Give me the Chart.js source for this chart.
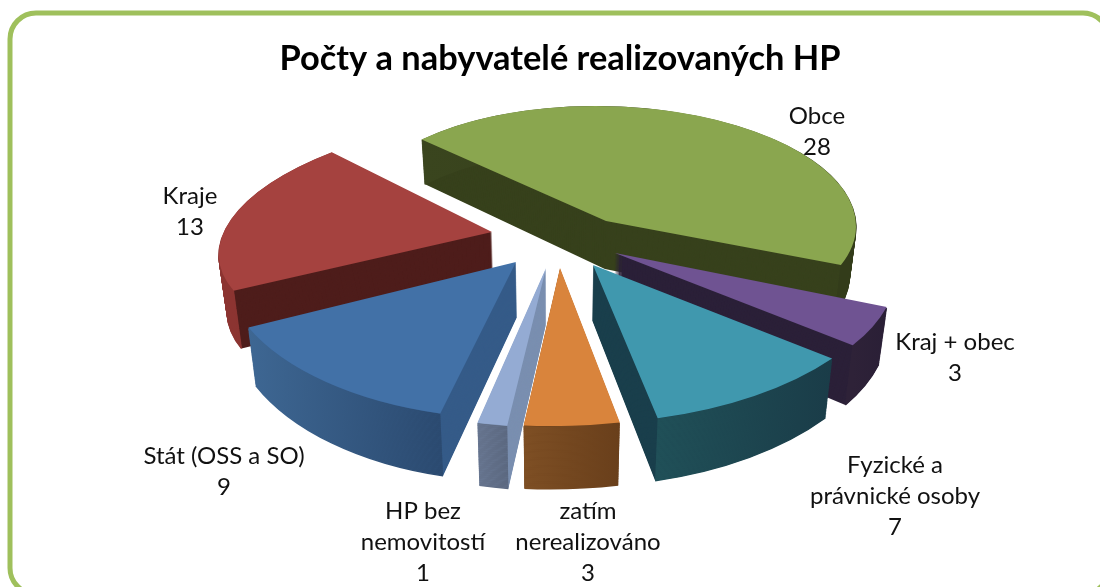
<!DOCTYPE html>
<html><head><meta charset="utf-8">
<style>html,body{margin:0;padding:0;background:#fff;overflow:hidden}canvas{display:block}</style>
<script src="https://cdn.jsdelivr.net/npm/chart.js@4/dist/chart.umd.min.js"></script>
</head><body>
<canvas id="c" width="1100" height="587"></canvas>
<script>
const categories = ["Obce","Kraj + obec","Fyzické a právnické osoby","zatím nerealizováno","HP bez nemovitostí","Stát (OSS a SO)","Kraje"];
const values = [28,3,7,3,1,9,13];
const topColors = ["#8aa64f","#6f5392","#4098ae","#d9843c","#94abd3","#4271a7","#a5423f"];
const faceColors = ["#37411c","#2b2038","#1a3f4c","#6e4019","#7a8fb0","#355b88","#4e1d1b"];
const rimFrom = ["#3a451e","#2e2238","#205058","#7e4f24","#66748e","#3e6793","#8c3431"];
const rimTo = ["#333c1a","#2a1f36","#1a3c48","#693f1b","#5b6880","#2b4a70","#7a2e2c"];
const labelLines = [["Obce","28"],["Kraj + obec","3"],["Fyzické a","právnické osoby","7"],["zatím","nerealizováno","3"],["HP bez","nemovitostí","1"],["Stát (OSS a SO)","9"],["Kraje","13"]];
const labelPos = [[817,116],[955,342],[895,465],[588,511],[423,511],[224,456],[190,196]];
// perspective layout of each slice: tip, 2x2 projection of the pie plane, thickness
const tipX = [606,615,593,560,546,516,492];
const tipY = [221,253,265,268,268,262,232];
const axisXx = [250,281,305,328,308,293,269];
const axisYx = [0,28,0,-10,-14,-24,-48];
const axisXy = [5,-1,-6,0,10,12,-2];
const axisYy = [115,150,158,158,159,156,117];
const turn = [-1.5,0,0,0,0,0,0];
const depth = [48,55,55,55,55,55,55];
const drawOrder = [0,6,1,5,2,4,3];
const vanishX = 555, shrink = 0.00045, grow = 0.0009;

const pie3d = {
  id:'pie3d',
  beforeDatasetsDraw(chart){
    const ctx=chart.ctx, meta=chart.getDatasetMeta(0);
    const draw=Chart.ArcElement.prototype.draw;
    ctx.save();
    for(const i of drawOrder){
      const el=meta.data[i];
      const r=el.outerRadius, rot=turn[i]*Math.PI/180;
      const place=(d)=>{
        const f=1-shrink*d, g=1+grow*d;
        ctx.setTransform(f,0,0,1,vanishX*(1-f),0);
        ctx.translate(tipX[i],tipY[i]+d);
        ctx.transform(axisXx[i]/r,axisXy[i]*g/r,axisYx[i]/r,axisYy[i]*g/r,0,0);
        ctx.rotate(rot);
        ctx.translate(-el.x,-el.y);
      };
      const dark=Object.create(el);
      dark.options=Object.assign({},el.options,{backgroundColor:faceColors[i],borderColor:faceColors[i],borderWidth:0});
      for(let d=depth[i];d>0;d--){place(d);draw.call(dark,ctx);}
      // outer rim, shaded from one end of the arc to the other
      const xa=tipX[i]+axisXx[i]*Math.cos(el.startAngle)+axisYx[i]*Math.sin(el.startAngle);
      const xb=tipX[i]+axisXx[i]*Math.cos(el.endAngle)+axisYx[i]*Math.sin(el.endAngle);
      const g=ctx.createLinearGradient(Math.min(xa,xb),0,Math.max(xa,xb),0);
      g.addColorStop(0,rimFrom[i]);g.addColorStop(1,rimTo[i]);
      for(let d=depth[i];d>0;d--){
        ctx.save();place(d);
        ctx.beginPath();ctx.arc(el.x,el.y,r,el.startAngle,el.endAngle);
        ctx.restore();
        ctx.setTransform(1,0,0,1,0,0);
        ctx.strokeStyle=g;ctx.lineWidth=1.5;ctx.stroke();
      }
      const top=Object.create(el);
      top.options=Object.assign({},el.options,{borderWidth:0});
      place(0);draw.call(top,ctx);
    }
    ctx.restore();
    return false;
  },
  afterDraw(chart){
    const ctx=chart.ctx;
    ctx.save();
    ctx.font='24px Lato';ctx.fillStyle='#111';ctx.textAlign='center';ctx.textBaseline='middle';
    labelLines.forEach((ls,i)=>{ls.forEach((t,j)=>ctx.fillText(t,labelPos[i][0],labelPos[i][1]+j*31));});
    ctx.restore();
  },
  beforeDraw(chart){
    const ctx=chart.ctx;
    ctx.save();ctx.fillStyle='#fff';ctx.fillRect(0,0,1100,587);
    ctx.strokeStyle='#9fc05c';ctx.lineWidth=5;ctx.beginPath();ctx.roundRect(10,13,1099,581,26);ctx.stroke();
    ctx.restore();
  }
};
new Chart(document.getElementById('c'),{
  type:'pie',
  data:{labels:categories,datasets:[{data:values,backgroundColor:topColors,borderWidth:0}]},
  plugins:[pie3d],
  options:{
    responsive:false,animation:false,rotation:-46,
    layout:{padding:{left:20,top:38}},
    plugins:{legend:{display:false},tooltip:{enabled:false},
      title:{display:true,text:"Počty a nabyvatelé realizovaných HP",color:'#000',font:{family:'Lato',size:34.4,weight:'bold'},padding:{top:0,bottom:10}}}
  }
});
</script></body></html>
